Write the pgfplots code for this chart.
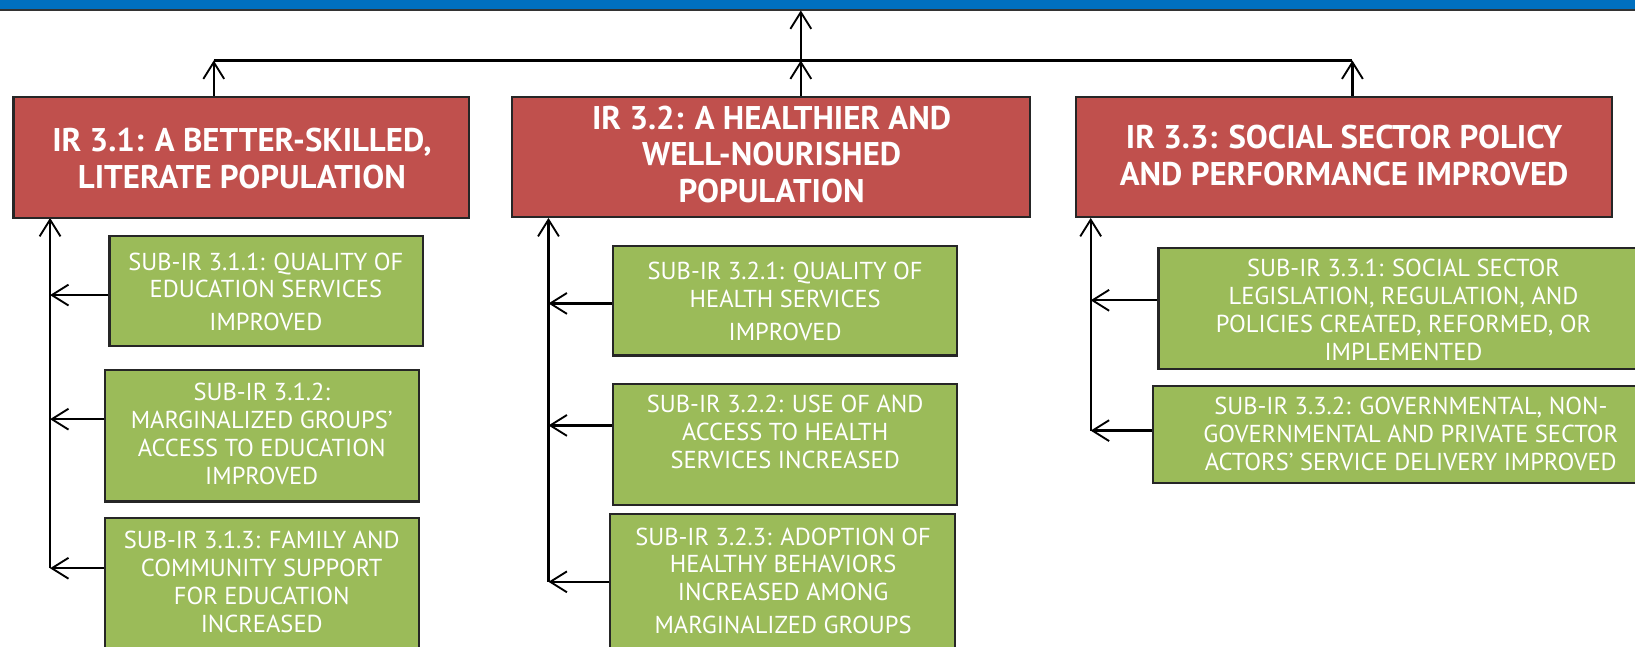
\documentclass[border=0pt]{standalone}
\usepackage{pgfplots}
\pgfplotsset{compat=1.18}
\usepackage{fontspec}
\setmainfont{PT Sans}
\usetikzlibrary{arrows.meta}
\definecolor{barblue}{RGB}{0,112,192}
\definecolor{irred}{RGB}{192,80,77}
\definecolor{subgreen}{RGB}{155,187,89}
\begin{document}
\begin{tikzpicture}
\begin{axis}[
  width=784bp, height=310bp, scale only axis,
  xmin=0, xmax=1568, ymin=0, ymax=620, y dir=reverse,
  hide axis, clip=true,
  every axis plot/.append style={line width=1.1bp},
  arr/.style={black, line width=1.1bp, -{Straight Barb[length=8bp,width=10bp,line width=0.9bp]}},
  redbox/.style={fill=irred, draw=black!85, line width=1.1bp},
  greenbox/.style={fill=subgreen, draw=black!85, line width=1.1bp},
]
% blue band
\addplot[fill=barblue, draw=none] coordinates {(-5,-5) (1575,-5) (1575,9) (-5,9)} --cycle;
\addplot[black!80, line width=1bp] coordinates {(-5,9.5) (1575,9.5)};
% top connectors
\addplot[arr] coordinates {(768,58) (768,10)};
\addplot[black, line width=1.1bp] coordinates {(205,58) (1297,58)};
\addplot[arr] coordinates {(205,93) (205,58)};
\addplot[arr] coordinates {(768,93) (768,58)};
\addplot[arr] coordinates {(1297,93) (1297,58)};
% vertical spines
\addplot[arr] coordinates {(48,545) (48,209)};
\addplot[arr] coordinates {(526,558) (526,209)};
\addplot[arr] coordinates {(1046,413) (1046,209)};
% horizontal arrows
\addplot[arr] coordinates {(105,283) (48,283)};
\addplot[arr] coordinates {(101,402) (48,402)};
\addplot[arr] coordinates {(101,545) (48,545)};
\addplot[arr] coordinates {(588,291) (526,291)};
\addplot[arr] coordinates {(588,408) (526,408)};
\addplot[arr] coordinates {(585,558) (526,558)};
\addplot[arr] coordinates {(1111,288) (1046,288)};
\addplot[arr] coordinates {(1106,413) (1046,413)};
% red boxes
\addplot[redbox] coordinates {(13,93) (450,93) (450,209) (13,209)} --cycle;
\addplot[redbox] coordinates {(491,93) (988,93) (988,208) (491,208)} --cycle;
\addplot[redbox] coordinates {(1032,93) (1546,93) (1546,208) (1032,208)} --cycle;
% green boxes
\addplot[greenbox] coordinates {(105,226) (406,226) (406,332) (105,332)} --cycle;
\addplot[greenbox] coordinates {(101,355) (402,355) (402,481) (101,481)} --cycle;
\addplot[greenbox] coordinates {(101,497) (402,497) (402,660) (101,660)} --cycle;
\addplot[greenbox] coordinates {(588,236) (918,236) (918,341) (588,341)} --cycle;
\addplot[greenbox] coordinates {(588,368) (918,368) (918,484) (588,484)} --cycle;
\addplot[greenbox] coordinates {(585,493) (916,493) (916,660) (585,660)} --cycle;
\addplot[greenbox] coordinates {(1111,238) (1620,238) (1620,354) (1111,354)} --cycle;
\addplot[greenbox] coordinates {(1106,370) (1620,370) (1620,463) (1106,463)} --cycle;
% red texts
\begin{scope}[every node/.style={text=white, align=center, font=\fontsize{15.8}{17.5}\selectfont\bfseries}]
\node at (axis cs:232,152) {IR 3.1: A BETTER-SKILLED,\\LITERATE POPULATION};
\node at (axis cs:740,148) {IR 3.2: A HEALTHIER AND\\WELL-NOURISHED\\POPULATION};
\node at (axis cs:1289,149) {IR 3.3: SOCIAL SECTOR POLICY\\AND PERFORMANCE IMPROVED};
\end{scope}
\begin{scope}[every node/.style={text=white, align=center, font=\fontsize{11.8}{13.4}\selectfont}]
\node at (axis cs:255,280) {SUB-IR 3.1.1: QUALITY OF\\EDUCATION SERVICES\\[2.5bp]IMPROVED};
\node at (axis cs:251,416) {SUB-IR 3.1.2:\\MARGINALIZED GROUPS’\\ACCESS TO EDUCATION\\IMPROVED};
\node at (axis cs:251,558) {SUB-IR 3.1.3: FAMILY AND\\COMMUNITY SUPPORT\\FOR EDUCATION\\INCREASED};
\node at (axis cs:753,289) {SUB-IR 3.2.1: QUALITY OF\\HEALTH SERVICES\\[2.5bp]IMPROVED};
\node at (axis cs:753,414) {SUB-IR 3.2.2: USE OF AND\\ACCESS TO HEALTH\\SERVICES INCREASED};
\node at (axis cs:751,557) {SUB-IR 3.2.3: ADOPTION OF\\HEALTHY BEHAVIORS\\INCREASED AMONG\\[2.5bp]MARGINALIZED GROUPS};
\node at (axis cs:1346,297) {SUB-IR 3.3.1: SOCIAL SECTOR\\LEGISLATION, REGULATION, AND\\POLICIES CREATED, REFORMED, OR\\IMPLEMENTED};
\node at (axis cs:1353,416) {SUB-IR 3.3.2: GOVERNMENTAL, NON-\\GOVERNMENTAL AND PRIVATE SECTOR\\ACTORS’ SERVICE DELIVERY IMPROVED};
\end{scope}
\end{axis}
\end{tikzpicture}
\end{document}
